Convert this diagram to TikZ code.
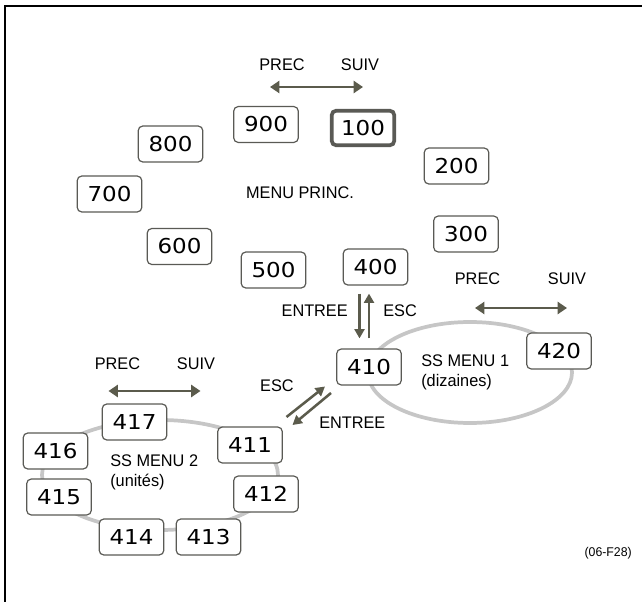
\documentclass[tikz,border=0pt]{standalone}
\usepackage{fontspec}
\setmainfont{Liberation Sans}
\newfontfamily\numfont[FakeStretch=1.12]{DejaVu Sans}
\newfontfamily\lblfont[FakeStretch=0.97]{Liberation Sans}
\usetikzlibrary{arrows.meta,calc}
\definecolor{arrowcol}{HTML}{5B5B4C}
\definecolor{boxcol}{HTML}{5A5A55}
\definecolor{ringcol}{HTML}{C6C6C6}
\begin{document}
\begin{tikzpicture}[x=0.75pt,y=-0.75pt,
  menubox/.style={draw=boxcol,line width=0.9pt,rounded corners=3.5pt,fill=white,
    minimum width=48.5pt,minimum height=27pt,inner sep=0pt,
    font=\numfont\fontsize{15.4pt}{16pt}\selectfont},
  curbox/.style={menubox,line width=2.8pt,minimum width=47pt,minimum height=26pt},
  lbl/.style={inner sep=0pt,font=\lblfont\fontsize{12.6pt}{14pt}\selectfont},
  small/.style={inner sep=0pt,font=\lblfont\fontsize{9.5pt}{11pt}\selectfont},
  navarrow/.style={draw=arrowcol,line width=2pt,
    {Triangle[length=7pt,width=9pt]}-{Triangle[length=7pt,width=9pt]}},
  onearrow/.style={draw=arrowcol,line width=1.9pt,-{Triangle[length=7pt,width=7.5pt]}},
  ring/.style={draw=ringcol,line width=2.8pt}]
\useasboundingbox (0,0) rectangle (642,602);
\draw[line width=2pt] (5,602) -- (5,6) -- (642,6);

% main menu
\node[lbl] (precA) at (282,65) {PREC};
\node[lbl] (suivA) at (360,65) {SUIV};
\coordinate (aA1) at (270,87);
\coordinate (aA2) at (363,87);
\draw[navarrow] (aA1) -- (aA2);

\node[menubox] (m900) at (266,124.5) {900};
\node[curbox] (m100) at (363,128) {100};
\node[menubox] (m800) at (170.5,144) {800};
\node[menubox] (m200) at (456.5,166) {200};
\node[menubox] (m700) at (109.5,194) {700};
\node[lbl] (mp) at (300,193) {MENU PRINC.};
\node[menubox] (m300) at (466,234) {300};
\node[menubox] (m600) at (179.5,246.5) {600};
\node[menubox] (m500) at (273.5,270) {500};
\node[menubox] (m400) at (375.5,267) {400};

% sub menu 1
\draw[ring] (470,372.5) ellipse [x radius=102, y radius=50.5];
\node[menubox] (m410) at (369,367) {410};
\node[menubox] (m420) at (559,351) {420};
\node[lbl,anchor=west] (sm1) at (421,361) {SS MENU 1};
\node[lbl,anchor=west] (sm1b) at (421,382) {(dizaines)};
\node[lbl] (precB) at (477.5,279) {PREC};
\node[lbl] (suivB) at (567,279) {SUIV};
\coordinate (aB1) at (475,308);
\coordinate (aB2) at (567,308);
\draw[navarrow] (aB1) -- (aB2);

\node[lbl,anchor=east] (entA) at (348,311) {ENTREE};
\node[lbl,anchor=west] (escA) at (383,311) {ESC};
\coordinate (d1s) at ($(m400.south)+(-16,8)$);
\coordinate (d1e) at ($(m410.north)+(-9.5,-10)$);
\coordinate (u1s) at ($(m410.north)+(0,-10)$);
\coordinate (u1e) at ($(m400.south)+(-6.5,8)$);
\draw[onearrow] (d1s) -- (d1e);
\draw[onearrow] (u1s) -- (u1e);

% sub menu 2
\draw[ring] (160,475) ellipse [x radius=118, y radius=55];
\node[menubox] (m417) at (134.5,422) {417};
\node[menubox] (m416) at (55.5,451) {416};
\node[menubox] (m411) at (250,445) {411};
\node[menubox] (m415) at (59,497) {415};
\node[menubox] (m412) at (266,494) {412};
\node[menubox] (m414) at (131.5,537) {414};
\node[menubox] (m413) at (208.5,537) {413};
\node[lbl,anchor=west] (sm2) at (110,461) {SS MENU 2};
\node[lbl,anchor=west] (sm2b) at (110,482) {(unités)};
\node[lbl] (precC) at (117.5,364) {PREC};
\node[lbl] (suivC) at (196,364) {SUIV};
\coordinate (aC1) at (108.5,391);
\coordinate (aC2) at (200.5,391);
\draw[navarrow] (aC1) -- (aC2);

\node[lbl,anchor=east] (escB) at (294,386) {ESC};
\node[lbl,anchor=west] (entB) at (319,423) {ENTREE};
\coordinate (e2s) at (286.5,417);
\coordinate (e2e) at (325,386.5);
\coordinate (n2s) at (331,393);
\coordinate (n2e) at (292.5,425);
\draw[onearrow] (e2s) -- (e2e);
\draw[onearrow] (n2s) -- (n2e);

\node[small,anchor=east] (ref) at (632,553) {(06-F28)};
\end{tikzpicture}
\end{document}
